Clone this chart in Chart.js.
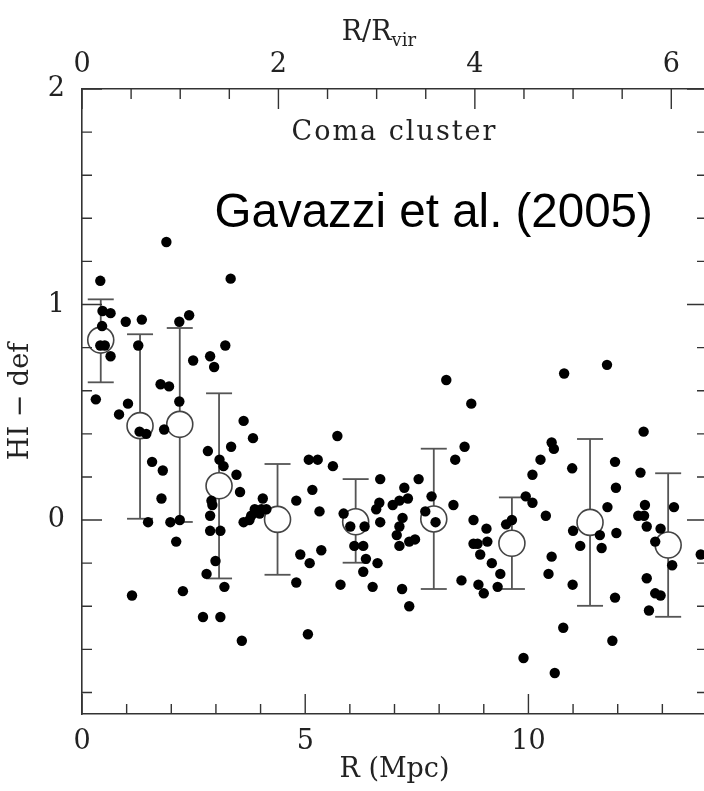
<!DOCTYPE html>
<html lang="en">
<head>
<meta charset="UTF-8">
<title>Coma cluster HI deficiency</title>
<script src="https://cdn.jsdelivr.net/npm/chart.js"></script>
<style>
  html, body { margin: 0; padding: 0; background: #fff; overflow: hidden; }
  .wrap { width: 704px; height: 791px; overflow: hidden; }
  canvas { display: block; }
</style>
</head>
<body>
<div class="wrap">
  <canvas id="defChart" width="712" height="791" style="width:712px;height:791px"></canvas>
</div>
<script>
// galaxies: projected distance from the cluster centre (Mpc) and HI deficiency
const galR = [
  1.89, 0.41, 3.33, 0.46, 0.64, 0.98, 1.34, 2.18, 2.40, 0.45,
  0.41, 0.51, 0.64, 1.26, 2.49, 2.87, 2.96, 3.21, 0.31, 1.03,
  0.83, 1.76, 1.95, 2.18, 1.29, 1.44, 1.84, 1.57, 1.81, 3.62,
  3.83, 3.34, 2.82, 3.08, 3.17, 3.46, 5.08, 5.28, 5.62, 5.72,
  6.68, 8.16, 8.72, 10.80, 11.76, 12.58, 8.57, 8.36, 10.52, 10.57,
  10.27, 10.98, 11.94, 10.09, 12.51, 7.54, 1.78, 1.48, 1.98, 2.19,
  2.11, 1.12, 2.26, 3.54, 2.90, 2.92, 2.87, 2.87, 3.10, 2.99,
  2.79, 3.19, 2.71, 3.10, 3.58, 3.62, 3.75, 3.79, 3.87, 3.98,
  4.02, 4.05, 4.13, 4.80, 5.16, 5.32, 4.89, 5.10, 5.36, 4.80,
  5.06, 5.79, 5.86, 6.01, 6.33, 6.10, 6.30, 6.36, 6.30, 6.51,
  6.62, 6.66, 6.59, 6.68, 6.96, 7.11, 7.22, 7.30, 7.18, 7.11,
  7.05, 7.11, 7.33, 7.46, 7.17, 7.33, 7.83, 7.69, 7.92, 8.32,
  8.50, 8.77, 9.06, 8.77, 8.86, 9.08, 8.92, 9.18, 9.37, 8.88,
  9.00, 9.31, 9.50, 9.63, 9.94, 10.09, 10.39, 10.52, 10.45, 10.78,
  9.89, 10.59, 11.00, 11.16, 10.99, 11.60, 11.64, 11.77, 11.96, 11.97,
  11.94, 11.88, 12.61, 12.46, 12.59, 12.65, 12.96, 12.84, 13.26, 13.22,
  12.65, 12.84, 12.96, 12.70, 13.86
];
const galDef = [
  1.29, 1.11, 1.12, 0.97, 0.96, 0.92, 0.93, 0.92, 0.95, 0.90,
  0.81, 0.81, 0.76, 0.81, 0.74, 0.76, 0.71, 0.81, 0.56, 0.54,
  0.49, 0.63, 0.62, 0.55, 0.41, 0.40, 0.42, 0.27, 0.23, 0.46,
  0.38, 0.34, 0.32, 0.28, 0.25, 0.21, 0.28, 0.28, 0.25, 0.39,
  0.19, 0.65, 0.54, 0.68, 0.72, 0.41, 0.34, 0.28, 0.36, 0.33,
  0.28, 0.24, 0.27, 0.21, 0.22, 0.19, 0.10, -0.01, -0.01, 0.00,
  -0.10, -0.35, -0.33, 0.13, 0.09, 0.07, 0.02, -0.05, -0.05, -0.19,
  -0.25, -0.31, -0.45, -0.45, -0.56, -0.01, 0.00, 0.02, 0.05, 0.03,
  0.05, 0.10, 0.05, 0.09, 0.14, 0.04, -0.16, -0.20, -0.14, -0.29,
  -0.53, -0.30, 0.03, -0.03, -0.03, -0.12, -0.12, -0.18, -0.24, -0.31,
  -0.20, 0.08, 0.05, -0.01, 0.07, 0.09, 0.15, 0.10, 0.01, -0.03,
  -0.07, -0.12, -0.10, -0.09, -0.32, -0.40, 0.11, 0.04, -0.01, 0.07,
  -0.28, 0.00, -0.04, -0.11, -0.11, -0.10, -0.16, -0.20, -0.25, -0.30,
  -0.34, -0.31, -0.02, 0.00, 0.11, 0.08, 0.02, -0.17, -0.25, -0.50,
  -0.64, -0.71, -0.05, -0.12, -0.30, -0.07, -0.13, 0.06, 0.15, -0.06,
  -0.36, -0.56, 0.07, 0.02, 0.02, -0.03, -0.04, -0.10, 0.06, -0.21,
  -0.27, -0.34, -0.35, -0.42, -0.16
];

// binned averages with their error bars
const binR    = [0.42, 1.30, 2.19, 3.07, 4.38, 6.13, 7.88, 9.63, 11.38, 13.13];
const binMean = [0.835, 0.438, 0.444, 0.159, 0.003, -0.008, 0.005, -0.108, -0.011, -0.116];
const binHi   = [1.024, 0.862, 0.891, 0.588, 0.260, 0.190, 0.331, 0.105, 0.376, 0.217];
const binLo   = [0.639, 0.006, -0.009, -0.271, -0.254, -0.198, -0.320, -0.320, -0.398, -0.449];

// axes
const rMax = 14;
const rVir = 2.2;
const defMin = -0.9;
const defMax = 2;
const xLabelTicks = [0, 5, 10];
const topLabelTicks = [0, 2, 4, 6];
const yLabelTicks = [0, 1, 2];

const ink = '#222';
const axisColor = '#333';
const serif = '"DejaVu Serif", "Liberation Serif", serif';
const tickFont = { family: serif, size: 27 };

const galPoints = galR.map((r, i) => ({ x: r, y: galDef[i] }));
const meanPoints = binR.map((r, i) => ({ x: r, y: binMean[i] }));
const errPoints = [];
binR.forEach((r, i) => {
  errPoints.push({ x: r, y: binLo[i] }, { x: r, y: binHi[i] }, { x: r, y: null });
});

// inward tick marks on all four sides, plus the text inside/above the frame
const boxTicks = {
  id: 'boxTicks',
  afterDraw(chart) {
    const { ctx, chartArea: a, scales } = chart;
    const { x, x2, y } = scales;
    ctx.save();
    ctx.strokeStyle = axisColor;
    ctx.lineWidth = 1.4;
    ctx.beginPath();
    for (let v = 0; v <= rMax; v += 1) {
      const px = x.getPixelForValue(v);
      const len = xLabelTicks.includes(v) ? 20 : 10;
      ctx.moveTo(px, a.bottom);
      ctx.lineTo(px, a.bottom - len);
    }
    for (let k = 0; k * 0.5 <= rMax / rVir; k++) {
      const v = k * 0.5;
      const px = x2.getPixelForValue(v);
      const len = topLabelTicks.includes(v) ? 20 : 10;
      ctx.moveTo(px, a.top);
      ctx.lineTo(px, a.top + len);
    }
    for (let k = -4; k <= 10; k++) {
      const v = Math.round(k * 0.2 * 10) / 10;
      const py = y.getPixelForValue(v);
      const len = yLabelTicks.includes(v) ? 20 : 10;
      ctx.moveTo(a.left, py);
      ctx.lineTo(a.left + len, py);
      ctx.moveTo(a.right, py);
      ctx.lineTo(a.right - len, py);
    }
    ctx.stroke();

    // top axis title R/R_vir
    ctx.fillStyle = ink;
    ctx.textBaseline = 'alphabetic';
    ctx.font = '27px ' + serif;
    const main = 'R/R';
    const wMain = ctx.measureText(main).width;
    ctx.font = '18px ' + serif;
    const wSub = ctx.measureText('vir').width;
    const cx = x.getPixelForValue(6.65);
    const x0 = cx - (wMain + wSub) / 2;
    ctx.font = '27px ' + serif;
    ctx.fillText(main, x0, 40);
    ctx.font = '18px ' + serif;
    ctx.fillText('vir', x0 + wMain, 46);

    // labels inside the frame
    ctx.font = '27px ' + serif;
    ctx.letterSpacing = '2px';
    ctx.textAlign = 'center';
    ctx.textBaseline = 'middle';
    ctx.fillText('Coma cluster', x.getPixelForValue(7.0), y.getPixelForValue(1.796));
    ctx.letterSpacing = '0px';
    ctx.fillStyle = '#000';
    ctx.font = '47.5px "Liberation Sans", Arial, sans-serif';
    ctx.textAlign = 'left';
    ctx.textBaseline = 'alphabetic';
    ctx.fillText('Gavazzi et al. (2005)', x.getPixelForValue(2.97), y.getPixelForValue(1.36));
    ctx.restore();
  }
};

const hideUnlisted = list => v => (list.includes(Math.round(v * 1000) / 1000) ? v : '');

new Chart(document.getElementById('defChart'), {
  type: 'scatter',
  data: {
    datasets: [
      {
        label: 'galaxies',
        data: galPoints,
        order: 0,
        pointRadius: 5.2,
        pointBackgroundColor: '#000',
        pointBorderWidth: 0,
        xAxisID: 'x',
        yAxisID: 'y'
      },
      {
        label: 'mean',
        data: meanPoints,
        order: 1,
        pointRadius: 13,
        pointBackgroundColor: '#fff',
        pointBorderColor: '#444',
        pointBorderWidth: 1.6,
        xAxisID: 'x',
        yAxisID: 'y'
      },
      {
        label: 'error',
        data: errPoints,
        order: 2,
        showLine: true,
        spanGaps: false,
        borderColor: '#555',
        borderWidth: 1.8,
        pointStyle: 'line',
        pointRadius: 13,
        pointBorderColor: '#555',
        pointBorderWidth: 1.8,
        xAxisID: 'x',
        yAxisID: 'y'
      }
    ]
  },
  options: {
    responsive: false,
    animation: false,
    events: [],
    layout: { padding: 0, autoPadding: false },
    plugins: {
      legend: { display: false },
      tooltip: { enabled: false }
    },
    scales: {
      x: {
        type: 'linear',
        position: 'bottom',
        min: 0,
        max: rMax,
        grid: { display: false, drawTicks: false },
        border: { display: true, color: axisColor, width: 1.6 },
        ticks: { stepSize: 5, includeBounds: false, padding: 12, font: tickFont, color: ink, maxRotation: 0, autoSkip: false, callback: hideUnlisted(xLabelTicks) },
        title: { display: true, text: 'R (Mpc)', font: tickFont, color: ink, padding: { top: 0, bottom: 5 } },
        afterFit: s => { s.height = 77; }
      },
      x2: {
        type: 'linear',
        position: 'top',
        min: 0,
        max: rMax / rVir,
        grid: { display: false, drawTicks: false },
        border: { display: true, color: axisColor, width: 1.6 },
        ticks: { stepSize: 2, includeBounds: false, padding: 8, font: tickFont, color: ink, maxRotation: 0, autoSkip: false, callback: hideUnlisted(topLabelTicks) },
        afterFit: s => { s.height = 89; }
      },
      y: {
        type: 'linear',
        position: 'left',
        min: defMin,
        max: defMax,
        grid: { display: false, drawTicks: false },
        border: { display: true, color: axisColor, width: 1.6 },
        ticks: { stepSize: 1, includeBounds: false, padding: 17, font: tickFont, color: ink, autoSkip: false, callback: hideUnlisted(yLabelTicks) },
        title: { display: true, text: 'HI \u2212 def', font: tickFont, color: ink, padding: { top: 5, bottom: 0 } },
        afterFit: s => { s.width = 82; }
      },
      y2: {
        type: 'linear',
        position: 'right',
        min: defMin,
        max: defMax,
        grid: { display: false, drawTicks: false },
        border: { display: true, color: axisColor, width: 1.6 },
        ticks: { display: false },
        afterFit: s => { s.width = 5; }
      }
    }
  },
  plugins: [boxTicks]
});
</script>
</body>
</html>
